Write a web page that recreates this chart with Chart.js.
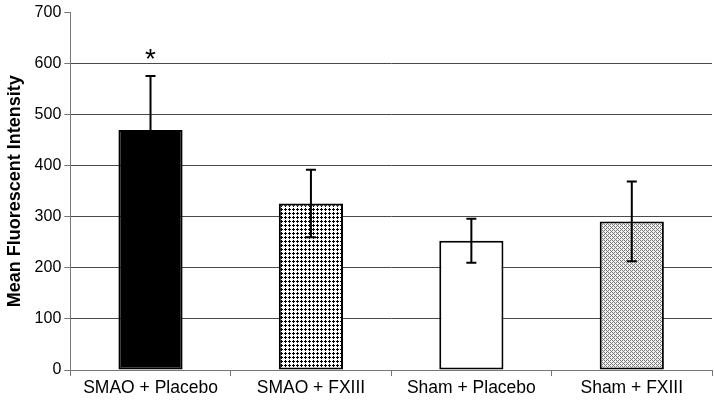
<!DOCTYPE html>
<html>
<head>
<meta charset="utf-8">
<script src="https://cdn.jsdelivr.net/npm/chart.js@4/dist/chart.umd.min.js"></script>
<style>
  body { margin: 0; background: #fff; }
  #wrap { width: 714px; height: 401px; }
</style>
</head>
<body>
<div id="wrap"><canvas id="barChart" width="714" height="401"></canvas></div>
<script>
const groups = ['SMAO + Placebo', 'SMAO + FXIII', 'Sham + Placebo', 'Sham + FXIII'];
const means = [470, 326, 253, 291];
const errors = [106, 66, 43, 78];
const significant = [true, false, false, false];
const yTicks = [0, 100, 200, 300, 400, 500, 600, 700];

function makePattern(size, draw) {
    const c = document.createElement('canvas');
    c.width = size;
    c.height = size;
    const g = c.getContext('2d');
    draw(g);
    return document.getElementById('barChart').getContext('2d').createPattern(c, 'repeat');
}

// small black plus marks on white
const dotPattern = makePattern(4, g => {
    g.fillStyle = '#fff';
    g.fillRect(0, 0, 4, 4);
    g.fillStyle = '#000';
    g.fillRect(1, 0, 1, 3);
    g.fillRect(0, 1, 3, 1);
});

// fine grey checker
const checkPattern = makePattern(4, g => {
    g.fillStyle = '#f0f0f0';
    g.fillRect(0, 0, 4, 4);
    g.fillStyle = '#7a7a7a';
    g.fillRect(0, 0, 1, 1);
    g.fillRect(2, 2, 1, 1);
    g.fillRect(1, 1, 1, 1);
    g.fillRect(3, 3, 1, 1);
    g.fillRect(0, 2, 1, 1);
    g.fillRect(2, 0, 1, 1);
});

const errorBars = {
    id: 'errorBars',
    afterDatasetsDraw(chart) {
        const ctx = chart.ctx;
        const y = chart.scales.y;
        const meta = chart.getDatasetMeta(0);
        ctx.save();
        ctx.strokeStyle = '#000';
        ctx.lineWidth = 2;
        meta.data.forEach((bar, i) => {
            const top = y.getPixelForValue(means[i] + errors[i]);
            const bottom = y.getPixelForValue(means[i] - errors[i]);
            ctx.beginPath();
            ctx.moveTo(bar.x, top);
            ctx.lineTo(bar.x, bottom);
            ctx.moveTo(bar.x - 5, top);
            ctx.lineTo(bar.x + 5, top);
            ctx.moveTo(bar.x - 5, bottom);
            ctx.lineTo(bar.x + 5, bottom);
            ctx.stroke();
            if (significant[i]) {
                ctx.fillStyle = '#000';
                ctx.font = '28px "Liberation Sans", Arial, sans-serif';
                ctx.textAlign = 'center';
                ctx.textBaseline = 'alphabetic';
                ctx.fillText('*', bar.x, top - 8);
            }
        });
        ctx.restore();
    }
};

const ctx = document.getElementById('barChart').getContext('2d');
new Chart(ctx, {
    type: 'bar',
    data: {
        labels: groups,
        datasets: [{
            data: means,
            backgroundColor: ['#000', dotPattern, '#fff', checkPattern],
            borderColor: '#000',
            borderWidth: 2,
            borderSkipped: false,
            barPercentage: 0.4,
            categoryPercentage: 1.0
        }]
    },
    options: {
        responsive: false,
        animation: false,
        layout: { padding: { top: 3, right: 2, left: 4, bottom: 0 } },
        plugins: {
            legend: { display: false },
            tooltip: { enabled: false }
        },
        scales: {
            x: {
                grid: {
                    drawOnChartArea: false,
                    drawTicks: true,
                    tickLength: 6,
                    tickColor: '#777',
                    offset: true
                },
                border: { color: '#777', width: 1 },
                ticks: {
                    color: '#000',
                    padding: 2,
                    font: { family: '"Liberation Sans", Arial, sans-serif', size: 17.5 }
                }
            },
            y: {
                min: 0,
                max: 700,
                afterBuildTicks: axis => { axis.ticks = yTicks.map(v => ({ value: v })); },
                grid: {
                    color: c => c.tick && c.tick.value === 700 ? 'rgba(0,0,0,0)' : '#4a4a4a',
                    tickColor: '#777',
                    tickLength: 6,
                    lineWidth: 1
                },
                border: { color: '#777', width: 1 },
                ticks: {
                    color: '#000',
                    padding: 3,
                    font: { family: '"Liberation Sans", Arial, sans-serif', size: 16 }
                },
                title: {
                    display: true,
                    text: 'Mean Fluorescent Intensity',
                    color: '#000',
                    padding: { top: 0, bottom: 6 },
                    font: { family: '"Liberation Sans", Arial, sans-serif', size: 18, weight: 'bold' }
                }
            }
        }
    },
    plugins: [errorBars]
});
</script>
</body>
</html>
